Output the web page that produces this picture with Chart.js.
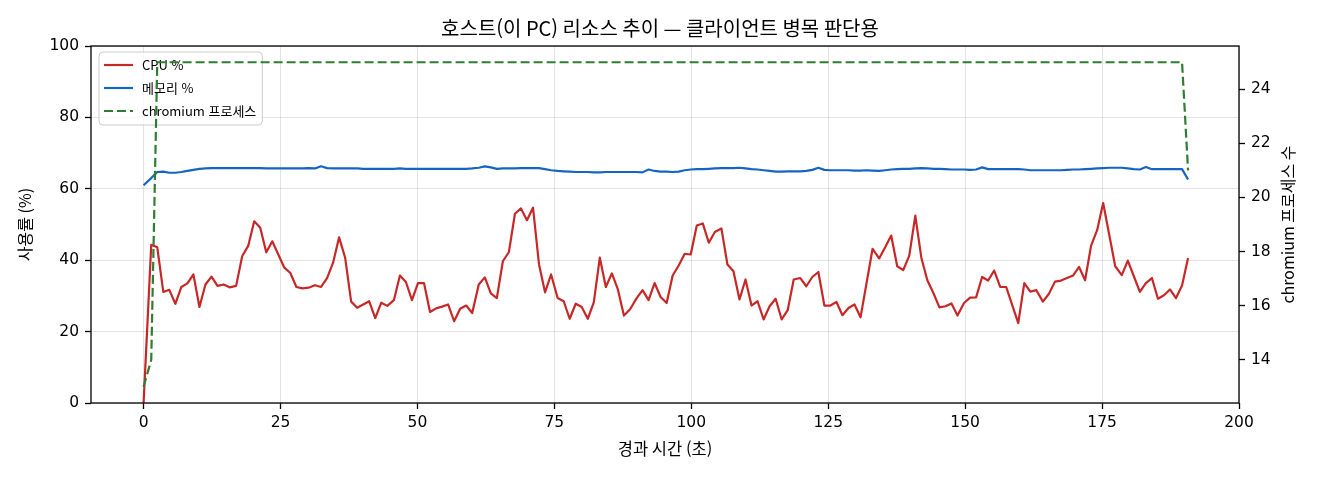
<!DOCTYPE html>
<html lang="ko">
<head>
<meta charset="utf-8">
<title>호스트(이 PC) 리소스 추이</title>
<script src="https://cdn.jsdelivr.net/npm/chart.js@4.4.1/dist/chart.umd.min.js"></script>
<style>
  html, body { margin: 0; padding: 0; background: #fff; }
  #chart { display: block; }
</style>
</head>
<body>
<canvas id="chart" width="1320" height="480"></canvas>
<script>
// elapsed seconds of each sample
const elapsed = [
    0, 1.4, 2.5, 3.6, 4.7, 5.8, 6.9, 8.0, 9.1, 10.2,
    11.3, 12.4, 13.5, 14.6, 15.7, 16.9, 18.0, 19.1, 20.2, 21.3,
    22.4, 23.5, 24.6, 25.7, 26.8, 27.9, 29.0, 30.1, 31.3, 32.4,
    33.5, 34.6, 35.7, 36.8, 37.9, 39.0, 40.1, 41.2, 42.3, 43.4,
    44.5, 45.7, 46.8, 47.9, 49.0, 50.1, 51.2, 52.3, 53.4, 54.5,
    55.6, 56.7, 57.8, 58.9, 60.0, 61.2, 62.3, 63.4, 64.5, 65.6,
    66.7, 67.8, 68.9, 70.0, 71.1, 72.2, 73.3, 74.4, 75.6, 76.7,
    77.8, 78.9, 80.0, 81.1, 82.2, 83.3, 84.4, 85.5, 86.6, 87.7,
    88.8, 90.0, 91.1, 92.2, 93.3, 94.4, 95.5, 96.6, 97.7, 98.8,
    99.9, 101.0, 102.1, 103.2, 104.3, 105.5, 106.6, 107.7, 108.8, 109.9,
    111.0, 112.1, 113.2, 114.3, 115.4, 116.5, 117.6, 118.7, 119.9, 121.0,
    122.1, 123.2, 124.3, 125.4, 126.5, 127.6, 128.7, 129.8, 130.9, 132.0,
    133.1, 134.3, 135.4, 136.5, 137.6, 138.7, 139.8, 140.9, 142.0, 143.1,
    144.2, 145.3, 146.4, 147.5, 148.6, 149.8, 150.9, 152.0, 153.1, 154.2,
    155.3, 156.4, 157.5, 158.6, 159.7, 160.8, 161.9, 163.0, 164.2, 165.3,
    166.4, 167.5, 168.6, 169.7, 170.8, 171.9, 173.0, 174.1, 175.2, 176.3,
    177.4, 178.6, 179.7, 180.8, 181.9, 183.0, 184.1, 185.2, 186.3, 187.4,
    188.5, 189.6, 190.7
];

const cpuPct = [
    0, 44.3, 43.6, 31.1, 31.7, 27.8, 32.5, 33.5, 36.0, 26.9,
    33.2, 35.4, 32.8, 33.2, 32.4, 32.8, 41.1, 44.0, 50.9, 49.1,
    42.2, 45.3, 41.6, 37.9, 36.4, 32.5, 32.1, 32.3, 33.0, 32.5,
    35.0, 39.3, 46.4, 40.7, 28.4, 26.7, 27.6, 28.5, 23.8, 28.1,
    27.2, 28.8, 35.7, 33.9, 28.8, 33.6, 33.6, 25.5, 26.5, 27.0,
    27.6, 22.9, 26.4, 27.3, 25.2, 33.2, 35.2, 30.7, 29.4, 39.7,
    42.3, 53.0, 54.5, 51.2, 54.7, 38.8, 31.0, 36.0, 29.4, 28.5,
    23.6, 27.8, 26.9, 23.6, 28.2, 40.7, 32.5, 36.3, 31.8, 24.5,
    26.2, 29.3, 31.6, 28.8, 33.6, 29.7, 28.0, 35.7, 38.5, 41.8,
    41.6, 49.7, 50.3, 44.9, 47.9, 48.9, 38.8, 36.9, 29.0, 34.6,
    27.3, 28.5, 23.4, 27.1, 29.2, 23.4, 26.0, 34.6, 35.0, 32.7,
    35.3, 36.7, 27.3, 27.3, 28.3, 24.6, 26.6, 27.6, 24.0, 33.6,
    43.2, 40.5, 43.6, 46.9, 38.3, 37.2, 41.3, 52.5, 40.7, 34.4,
    30.8, 26.8, 27.1, 27.9, 24.5, 28.0, 29.5, 29.6, 35.3, 34.3,
    37.1, 32.5, 32.5, 27.4, 22.4, 33.6, 31.2, 31.6, 28.4, 30.6,
    34.0, 34.3, 35.0, 35.7, 38.1, 34.4, 44.1, 48.4, 56.0, 47.2,
    38.3, 35.8, 39.9, 35.5, 31.1, 33.6, 35.0, 29.2, 30.2, 31.8,
    29.4, 32.9, 40.6
];

const memPct = [
    61.0, 63.0, 64.7, 64.8, 64.5, 64.5, 64.7, 65.0, 65.3, 65.6,
    65.7, 65.8, 65.8, 65.8, 65.8, 65.8, 65.8, 65.8, 65.8, 65.8,
    65.7, 65.7, 65.7, 65.7, 65.7, 65.7, 65.7, 65.8, 65.7, 66.3,
    65.8, 65.7, 65.7, 65.7, 65.7, 65.7, 65.6, 65.6, 65.6, 65.6,
    65.6, 65.6, 65.7, 65.6, 65.6, 65.6, 65.6, 65.6, 65.6, 65.6,
    65.6, 65.6, 65.6, 65.6, 65.7, 65.9, 66.3, 66.0, 65.6, 65.7,
    65.7, 65.7, 65.8, 65.8, 65.8, 65.8, 65.5, 65.2, 65.0, 64.9,
    64.8, 64.7, 64.7, 64.7, 64.6, 64.6, 64.7, 64.7, 64.7, 64.7,
    64.7, 64.7, 64.6, 65.4, 65.0, 64.8, 64.8, 64.7, 64.8, 65.2,
    65.4, 65.5, 65.5, 65.6, 65.7, 65.8, 65.8, 65.8, 65.9, 65.7,
    65.5, 65.4, 65.2, 65.0, 64.8, 64.8, 64.9, 64.9, 64.9, 65.0,
    65.3, 65.9, 65.3, 65.2, 65.2, 65.2, 65.2, 65.1, 65.1, 65.2,
    65.1, 65.0, 65.2, 65.4, 65.5, 65.6, 65.6, 65.7, 65.8, 65.7,
    65.6, 65.6, 65.5, 65.4, 65.4, 65.4, 65.3, 65.4, 66.0, 65.5,
    65.5, 65.5, 65.5, 65.5, 65.5, 65.4, 65.2, 65.2, 65.2, 65.2,
    65.2, 65.2, 65.3, 65.4, 65.4, 65.5, 65.6, 65.7, 65.8, 65.9,
    65.9, 65.9, 65.7, 65.5, 65.4, 66.1, 65.5, 65.5, 65.5, 65.5,
    65.5, 65.5, 62.6
];

const chromiumCount = [
    13, 14, 25, 25, 25, 25, 25, 25, 25, 25,
    25, 25, 25, 25, 25, 25, 25, 25, 25, 25,
    25, 25, 25, 25, 25, 25, 25, 25, 25, 25,
    25, 25, 25, 25, 25, 25, 25, 25, 25, 25,
    25, 25, 25, 25, 25, 25, 25, 25, 25, 25,
    25, 25, 25, 25, 25, 25, 25, 25, 25, 25,
    25, 25, 25, 25, 25, 25, 25, 25, 25, 25,
    25, 25, 25, 25, 25, 25, 25, 25, 25, 25,
    25, 25, 25, 25, 25, 25, 25, 25, 25, 25,
    25, 25, 25, 25, 25, 25, 25, 25, 25, 25,
    25, 25, 25, 25, 25, 25, 25, 25, 25, 25,
    25, 25, 25, 25, 25, 25, 25, 25, 25, 25,
    25, 25, 25, 25, 25, 25, 25, 25, 25, 25,
    25, 25, 25, 25, 25, 25, 25, 25, 25, 25,
    25, 25, 25, 25, 25, 25, 25, 25, 25, 25,
    25, 25, 25, 25, 25, 25, 25, 25, 25, 25,
    25, 25, 25, 25, 25, 25, 25, 25, 25, 25,
    25, 25, 21
];

const xTicks = [0, 25, 50, 75, 100, 125, 150, 175, 200];
const yTicks = [0, 20, 40, 60, 80, 100];
const y2Ticks = [14, 16, 18, 20, 22, 24];

const KR = "'Noto Sans CJK KR', 'DejaVu Sans', sans-serif";
const NUM = "'DejaVu Sans', sans-serif";
const GRID = 'rgba(176, 176, 176, 0.35)';

Chart.defaults.color = '#000';
Chart.defaults.font.family = KR;

function toPoints(values) {
    return elapsed.map((t, i) => ({ x: t, y: values[i] }));
}

// legend inside the axes, drawn under the lines (the twin axis line crosses it)
const legendBox = {
    id: 'legendBox',
    beforeDatasetsDraw(chart) {
        const { ctx, chartArea } = chart;
        const x0 = chartArea.left + 8;
        const y0 = chartArea.top + 6;
        const items = chart.data.datasets;
        ctx.save();
        ctx.font = `13px ${KR}`;
        const textW = Math.max(...items.map(d => ctx.measureText(d.label).width));
        const w = 43 + textW + 6;
        const h = 73;
        ctx.beginPath();
        ctx.roundRect(x0, y0, w, h, 4);
        ctx.fillStyle = 'rgba(255, 255, 255, 0.8)';
        ctx.fill();
        ctx.strokeStyle = '#cccccc';
        ctx.lineWidth = 1;
        ctx.stroke();
        items.forEach((d, i) => {
            const y = y0 + 13 + i * 23;
            ctx.beginPath();
            ctx.strokeStyle = d.borderColor;
            ctx.lineWidth = d.borderWidth;
            ctx.setLineDash(d.borderDash || []);
            ctx.moveTo(x0 + 5, y);
            ctx.lineTo(x0 + 34, y);
            ctx.stroke();
            ctx.setLineDash([]);
            ctx.fillStyle = '#000';
            ctx.textAlign = 'left';
            ctx.textBaseline = 'middle';
            ctx.fillText(d.label, x0 + 43, y);
        });
        ctx.restore();
    }
};

// black spines on all four sides
const frame = {
    id: 'frame',
    afterDatasetsDraw(chart) {
        const { ctx, chartArea: a } = chart;
        ctx.save();
        ctx.strokeStyle = '#000';
        ctx.lineWidth = 1.3;
        ctx.strokeRect(a.left, a.top, a.right - a.left, a.bottom - a.top);
        ctx.restore();
    }
};

// right axis title reads bottom-to-top like the left one
const rightTitle = {
    id: 'rightTitle',
    afterDraw(chart) {
        const { ctx, chartArea: a } = chart;
        ctx.save();
        ctx.translate(1288, (a.top + a.bottom) / 2);
        ctx.rotate(-Math.PI / 2);
        ctx.font = `16px ${KR}`;
        ctx.fillStyle = '#000';
        ctx.textAlign = 'center';
        ctx.textBaseline = 'middle';
        ctx.fillText('chromium 프로세스 수', 0, 0);
        ctx.restore();
    }
};

const tickFont = { family: NUM, size: 15.5 };

new Chart(document.getElementById('chart'), {
    type: 'line',
    data: {
        datasets: [
            {
                label: 'CPU %',
                data: toPoints(cpuPct),
                borderColor: '#c62828',
                borderWidth: 2.2,
                yAxisID: 'y',
                order: 2
            },
            {
                label: '메모리 %',
                data: toPoints(memPct),
                borderColor: '#1565c0',
                borderWidth: 2.2,
                yAxisID: 'y',
                order: 1
            },
            {
                label: 'chromium 프로세스',
                data: toPoints(chromiumCount),
                borderColor: '#2e7d32',
                borderWidth: 2.2,
                borderDash: [9, 4],
                yAxisID: 'y2',
                order: 0
            }
        ]
    },
    options: {
        responsive: false,
        devicePixelRatio: 1,
        animation: false,
        events: [],
        parsing: false,
        elements: {
            point: { radius: 0 },
            line: { tension: 0, fill: false, borderJoinStyle: 'round' }
        },
        layout: { padding: 0 },
        plugins: {
            legend: { display: false },
            tooltip: { enabled: false },
            title: {
                display: true,
                text: '호스트(이 PC) 리소스 추이 — 클라이언트 병목 판단용',
                font: { family: KR, size: 20, weight: 'normal', lineHeight: 1.2 },
                color: '#000',
                padding: { top: 16.3, bottom: 5.7 }
            }
        },
        scales: {
            x: {
                type: 'linear',
                min: -9.6,
                max: 200,
                afterBuildTicks: s => { s.ticks = xTicks.map(v => ({ value: v })); },
                afterFit: s => { s.height = 77; },
                ticks: { font: tickFont, padding: 5, maxRotation: 0, autoSkip: false },
                grid: { color: GRID, lineWidth: 1, tickColor: '#000', tickLength: 6, tickWidth: 1.3 },
                border: { display: false },
                title: {
                    display: true,
                    text: '경과 시간 (초)',
                    font: { family: KR, size: 16.5, lineHeight: 1.2 },
                    padding: { top: 0, bottom: 21.6 }
                }
            },
            y: {
                position: 'left',
                min: 0,
                max: 100,
                afterBuildTicks: s => { s.ticks = yTicks.map(v => ({ value: v })); },
                afterFit: s => { s.width = 91; },
                ticks: { font: tickFont, padding: 6 },
                grid: { color: GRID, lineWidth: 1, tickColor: '#000', tickLength: 6, tickWidth: 1.3 },
                border: { display: false },
                title: {
                    display: true,
                    text: '사용률 (%)',
                    font: { family: KR, size: 16, lineHeight: 1.2 },
                    padding: { top: 15.4, bottom: 0 }
                }
            },
            y2: {
                position: 'right',
                min: 12.4,
                max: 25.6,
                afterBuildTicks: s => { s.ticks = y2Ticks.map(v => ({ value: v })); },
                afterFit: s => { s.width = 81; },
                ticks: { font: tickFont, padding: 6 },
                grid: { drawOnChartArea: false, tickColor: '#000', tickLength: 6, tickWidth: 1.3 },
                border: { display: false }
            }
        }
    },
    plugins: [legendBox, frame, rightTitle]
});
</script>
</body>
</html>
